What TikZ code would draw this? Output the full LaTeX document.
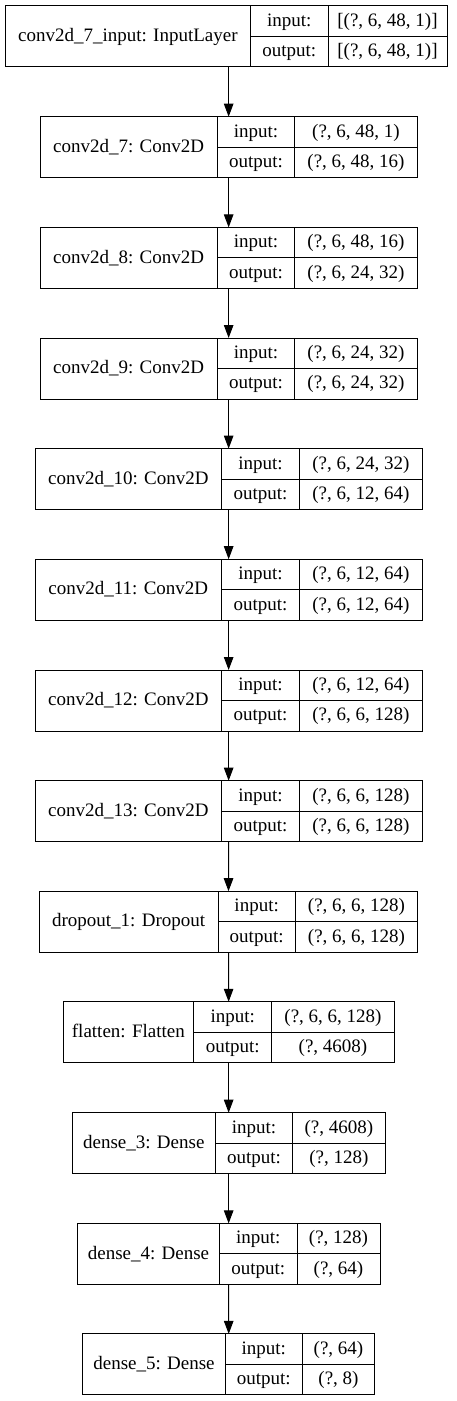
\documentclass[tikz,border=0pt]{standalone}
\usepackage{fontspec}
\setmainfont{Liberation Serif}
\usetikzlibrary{arrows.meta}
\tikzset{
  layerbox/.style={draw,line width=1pt,inner sep=0pt,outer sep=0pt,minimum height=61pt},
  celltext/.style={inner sep=0pt,text height=14pt,text depth=3.6pt},
  arr/.style={-{Triangle[length=13pt,width=9.5pt]},line width=1pt}
}
% #1 name, #2 left, #3 top, #4 first divider, #5 second divider, #6 right,
% #7 layer label, #8 input shape, #9 output shape
\newcommand{\kerasbox}[9]{%
  \node[layerbox,minimum width={(#6-#2)*1pt},anchor=north west] (#1) at (#2,#3) {};
  \draw[line width=1pt] (#4,#3)--++(0,61) (#5,#3)--++(0,61) (#4,#3+30.5)--(#6,#3+30.5);
  \node[celltext] (#1-lbl) at ({(#2+#4)/2},#3+30.5) {#7};
  \node[celltext] (#1-ink) at ({(#4+#5)/2},#3+15.25) {input:};
  \node[celltext] (#1-outk) at ({(#4+#5)/2},#3+45.75) {output:};
  \node[celltext] (#1-inv) at ({(#5+#6)/2},#3+15.25) {#8};
  \node[celltext] (#1-outv) at ({(#5+#6)/2},#3+45.75) {#9};
}
\begin{document}
\begin{tikzpicture}[x=1pt,y=-1pt,font=\fontsize{19}{22}\selectfont]
  \useasboundingbox (0,0) rectangle (457,1401);
  \kerasbox{inp}{5}{5.7}{250.7}{328}{447}{conv2d\_7\_input: InputLayer}{[(?, 6, 48, 1)]}{[(?, 6, 48, 1)]}
  \kerasbox{c7}{40}{116.7}{217.3}{294.7}{417.3}{conv2d\_7: Conv2D}{(?, 6, 48, 1)}{(?, 6, 48, 16)}
  \kerasbox{c8}{40}{227.4}{217.3}{294.7}{417.3}{conv2d\_8: Conv2D}{(?, 6, 48, 16)}{(?, 6, 24, 32)}
  \kerasbox{c9}{40}{338}{217.3}{294.7}{417.3}{conv2d\_9: Conv2D}{(?, 6, 24, 32)}{(?, 6, 24, 32)}
  \kerasbox{c10}{35}{448.6}{221.7}{299.3}{422.3}{conv2d\_10: Conv2D}{(?, 6, 24, 32)}{(?, 6, 12, 64)}
  \kerasbox{c11}{35}{559.2}{221.7}{299.3}{422.3}{conv2d\_11: Conv2D}{(?, 6, 12, 64)}{(?, 6, 12, 64)}
  \kerasbox{c12}{35}{670}{221.7}{299.3}{422.3}{conv2d\_12: Conv2D}{(?, 6, 12, 64)}{(?, 6, 6, 128)}
  \kerasbox{c13}{35}{780.7}{221.7}{299.3}{422.3}{conv2d\_13: Conv2D}{(?, 6, 6, 128)}{(?, 6, 6, 128)}
  \kerasbox{drop}{39.3}{891.2}{218}{295.3}{417.7}{dropout\_1: Dropout}{(?, 6, 6, 128)}{(?, 6, 6, 128)}
  \kerasbox{flat}{63}{1001.8}{193.7}{271.7}{394.3}{flatten: Flatten}{(?, 6, 6, 128)}{(?, 4608)}
  \kerasbox{d3}{72.3}{1112.7}{215.3}{292.7}{385}{dense\_3: Dense}{(?, 4608)}{(?, 128)}
  \kerasbox{d4}{77.3}{1223.4}{219.7}{297}{380}{dense\_4: Dense}{(?, 128)}{(?, 64)}
  \kerasbox{d5}{82.7}{1333.9}{225.3}{302.3}{374.7}{dense\_5: Dense}{(?, 64)}{(?, 8)}
  % connectors
  \draw[arr] (inp.south -| c7.north) -- (c7.north);
  \foreach \a/\b in {c7/c8,c8/c9,c9/c10,c10/c11,c11/c12,c12/c13,c13/drop,drop/flat,flat/d3,d3/d4,d4/d5}
    \draw[arr] (\a.south) -- (\b.north);
\end{tikzpicture}
\end{document}
